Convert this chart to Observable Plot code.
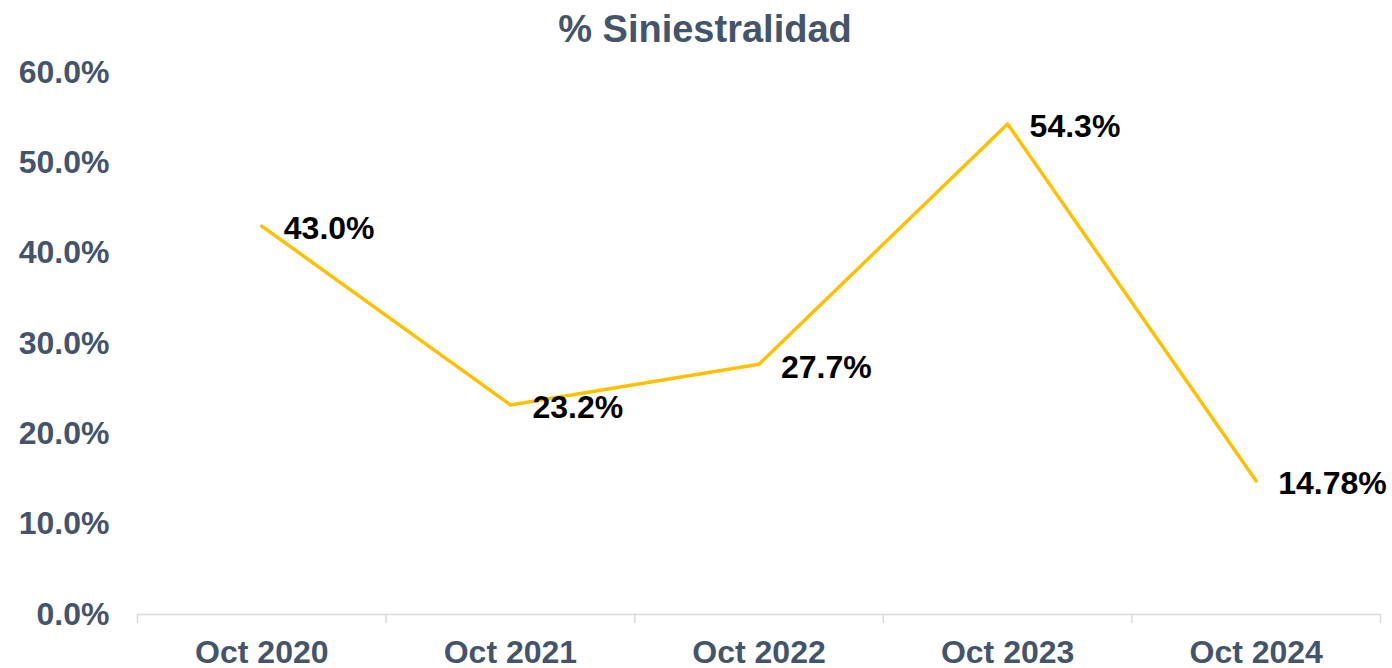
<!DOCTYPE html>
<html>
<head>
<meta charset="utf-8">
<script src="https://cdn.jsdelivr.net/npm/d3@7"></script>
<script src="https://cdn.jsdelivr.net/npm/@observablehq/plot@0.6"></script>
<style>
  html, body { margin: 0; padding: 0; background: #fff; }
  #title { height: 56px; line-height: 58px; text-align: center; font-family: "Liberation Sans", Arial, sans-serif; font-weight: bold; font-size: 38px; color: #44546A; padding-left: 18px; }
  #chart svg { display: block; overflow: visible; }
</style>
</head>
<body>
<div id="title">% Siniestralidad</div>
<div id="chart"></div>
<script>
const periods = ["Oct 2020", "Oct 2021", "Oct 2022", "Oct 2023", "Oct 2024"];
const values = [43.0, 23.2, 27.7, 54.3, 14.78];
const valueLabels = ["43.0%", "23.2%", "27.7%", "54.3%", "14.78%"];
const yTicks = [0, 10, 20, 30, 40, 50, 60];

const data = periods.map((p, i) => ({i, period: p, value: values[i], label: valueLabels[i]}));
const boundaries = d3.range(periods.length + 1).map(k => k - 0.5);
const font = "Liberation Sans, Arial, sans-serif";

const chart = Plot.plot({
  width: 1392,
  height: 612,
  marginTop: 16,
  marginLeft: 137,
  marginRight: 12,
  marginBottom: 54,
  style: {fontFamily: font, fontSize: "32px", fontWeight: "bold", background: "white", overflow: "visible"},
  x: {domain: [-0.5, periods.length - 0.5]},
  y: {domain: [0, 60]},
  marks: [
    Plot.axisY({ticks: yTicks, tickFormat: d => d.toFixed(1) + "%", tickSize: 0, tickPadding: 28, color: "#44546A", label: null, fontSize: 32, fontWeight: "bold"}),
    Plot.axisX({ticks: boundaries, tickFormat: () => "", tickSize: 9, stroke: "#D9D9D9", strokeWidth: 1.5, label: null}),
    Plot.axisX({ticks: d3.range(periods.length), tickFormat: k => periods[k], tickSize: 0, tickPadding: 26, color: "#44546A", label: null, fontSize: 32, fontWeight: "bold"}),
    Plot.ruleY([0], {stroke: "#D9D9D9", strokeWidth: 1.5}),
    Plot.line(data, {x: "i", y: "value", stroke: "#FFC000", strokeWidth: 3.5}),
    Plot.text(data, {x: "i", y: "value", text: "label", textAnchor: "start", dx: 22, dy: 3, fill: "black", fontSize: 32, fontWeight: "bold"})
  ]
});
document.getElementById("chart").appendChild(chart);
</script>
</body>
</html>
